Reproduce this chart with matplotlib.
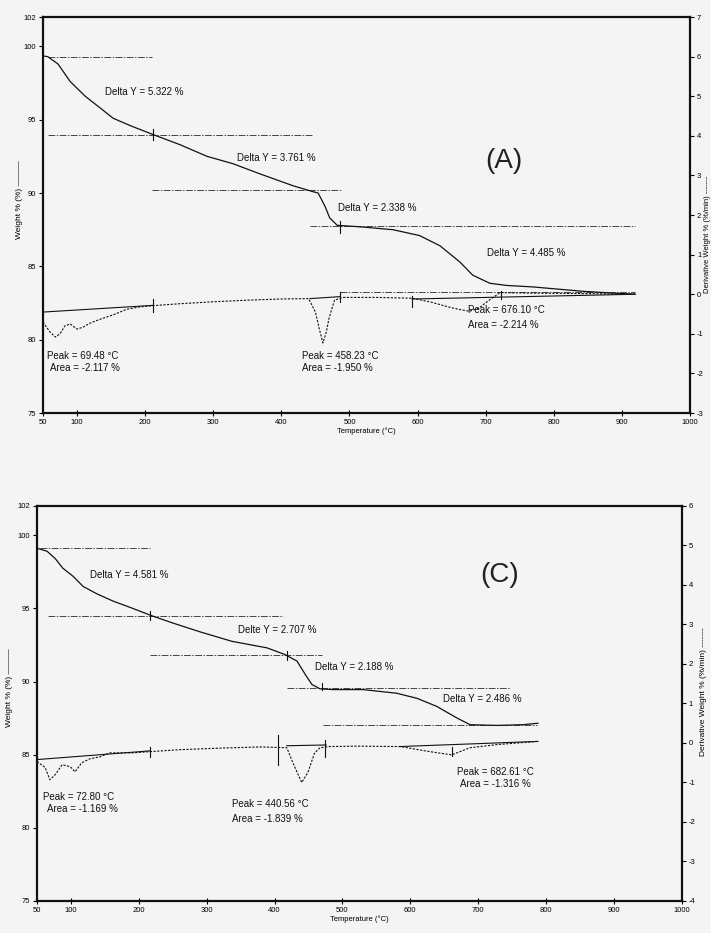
import numpy as np
import matplotlib.pyplot as plt

plt.rcParams['font.family'] = ['Liberation Sans', 'DejaVu Sans']
plt.rcParams['axes.unicode_minus'] = False

# ---- panel A data ----
temp_a = [50, 57, 72, 90, 112, 134, 153, 178, 211, 251, 291, 329, 369, 417, 446,
          454, 464, 471, 482, 515, 564, 603, 633, 662, 681, 706, 731, 769, 843, 916]
weight_a = [99.35, 99.3, 98.8, 97.6, 96.6, 95.8, 95.1, 94.6, 94.0, 93.3, 92.5, 92.0,
            91.3, 90.5, 90.1, 90.0, 89.1, 88.3, 87.8, 87.7, 87.5, 87.1, 86.4, 85.3,
            84.4, 83.85, 83.7, 83.6, 83.3, 83.1]
dtemp_a = [50, 60, 68, 75, 82, 90, 100, 109, 119, 134, 153, 173, 192, 210, 250, 300,
           350, 400, 440, 450, 456, 461, 466, 470, 478, 490, 540, 592, 620, 643, 660,
           676, 690, 705, 721, 760, 820, 880, 920]
deriv_a = [-0.70, -0.95, -1.08, -1.0, -0.80, -0.75, -0.88, -0.83, -0.73, -0.63, -0.52,
           -0.38, -0.32, -0.29, -0.24, -0.19, -0.15, -0.12, -0.11, -0.45, -0.9, -1.23,
           -0.95, -0.6, -0.15, -0.08, -0.08, -0.1, -0.2, -0.31, -0.38, -0.43, -0.35,
           -0.15, 0.04, 0.03, 0.02, 0.01, 0.01]
steps_a = [(57, 210, 99.25), (57, 445, 93.95), (210, 489, 90.2), (442, 919, 87.75),
           (486, 919, 83.25)]
base_a = [([50, 212], [-0.45, -0.28]), ([442, 486], [-0.11, -0.06]),
          ([592, 920], [-0.12, 0.0])]
wmark_a = [(212, 93.6, 94.4), (486, 87.3, 88.1)]
dmark_a = [(212, -0.45, -0.12), (486, -0.2, 0.05), (592, -0.33, -0.05), (722, -0.12, 0.08)]
notes_a = [("Delta Y = 5.322 %", 141, 96.9), ("Delta Y = 3.761 %", 335, 92.4),
           ("Delta Y = 2.338 %", 483, 89.0), ("Delta Y = 4.485 %", 702, 85.9),
           ("Peak = 69.48 °C", 56, 78.9), ("Area = -2.117 %", 60, 78.1),
           ("Peak = 458.23 °C", 430, 78.9), ("Area = -1.950 %", 430, 78.1),
           ("Peak = 676.10 °C", 674, 82.0), ("Area = -2.214 %", 674, 81.0)]

# ---- panel C data ----
temp_c = [50, 51, 65, 77, 88, 103, 118, 138, 162, 191, 219, 250, 290, 337, 389, 415,
          433, 445, 455, 467, 486, 530, 580, 610, 639, 669, 688, 728, 766, 788]
weight_c = [99.2, 99.1, 98.9, 98.4, 97.75, 97.2, 96.5, 96.0, 95.5, 95.0, 94.5, 94.0,
            93.4, 92.75, 92.3, 91.85, 91.4, 90.5, 89.8, 89.5, 89.45, 89.45, 89.2,
            88.85, 88.3, 87.5, 87.05, 87.0, 87.05, 87.15]
dtemp_c = [50, 62, 69, 77, 87, 99, 106, 116, 128, 143, 157, 191, 216, 260, 320, 380,
           418, 427, 440, 449, 459, 467, 480, 520, 585, 629, 661, 688, 728, 788]
deriv_c = [-0.47, -0.62, -0.93, -0.80, -0.55, -0.60, -0.73, -0.50, -0.40, -0.35, -0.25,
           -0.25, -0.22, -0.17, -0.13, -0.10, -0.12, -0.5, -1.0, -0.75, -0.25, -0.12,
           -0.09, -0.08, -0.09, -0.22, -0.30, -0.12, -0.04, 0.04]
steps_c = [(54, 216, 99.1), (66, 412, 94.5), (216, 470, 91.8), (418, 747, 89.55),
           (471, 786, 87.05)]
base_c = [([50, 216], [-0.42, -0.2]), ([418, 476], [-0.07, -0.05]),
          ([585, 788], [-0.09, 0.04])]
wmark_c = [(216, 94.2, 94.8), (418, 91.5, 92.1), (470, 89.4, 89.9)]
dmark_c = [(216, -0.35, -0.1), (405, -0.55, 0.21), (474, -0.35, 0.08), (661, -0.33, -0.1)]
notes_c = [("Delta Y = 4.581 %", 128, 97.3), ("Delte Y = 2.707 %", 346, 93.5),
           ("Delta Y = 2.188 %", 459, 91.0), ("Delta Y = 2.486 %", 648, 88.8),
           ("Peak = 72.80 °C", 59, 82.1), ("Area = -1.169 %", 65, 81.3),
           ("Peak = 440.56 °C", 337, 81.6), ("Area = -1.839 %", 338, 80.6),
           ("Peak = 682.61 °C", 669, 83.8), ("Area = -1.316 %", 673, 83.0)]

xticks = [50, 100, 200, 300, 400, 500, 600, 700, 800, 900, 1000]
yticks = [75, 80, 85, 90, 95, 100, 102]

paper = '#f4f4f4'
ink = '#111111'


def panel(rect, t, w, dt, d, steps, bases, wmarks, dmarks, notes,
          dlim, letter, letter_pos, ylab_x, rlab_pos, rlab_size):
    ax = fig.add_axes(rect)
    ax.set_facecolor(paper)
    ax.set_xlim(50, 1000)
    ax.set_ylim(75, 102)
    ax.set_xticks(xticks)
    ax.set_yticks(yticks)
    for s in ax.spines.values():
        s.set_linewidth(1.6)
        s.set_color(ink)
    ax.tick_params(axis='x', direction='inout', length=4, width=0.8, labelsize=5.5, pad=2)
    ax.tick_params(axis='y', direction='out', length=3, width=0.8, labelsize=5.5, pad=2)

    for x0, x1, lev in steps:
        ax.plot([x0, x1], [lev, lev], color='#444444', lw=0.7,
                linestyle=(0, (7, 1.5, 1.5, 1.5)))
    ax.plot(t, w, color=ink, lw=0.9)
    for x, lo, hi in wmarks:
        ax.plot([x, x], [lo, hi], color=ink, lw=0.8)
    for txt, x, y in notes:
        ax.text(x, y, txt, fontsize=7, ha='left', va='center', color=ink)
    ax.text(letter_pos[0], letter_pos[1], letter, fontsize=20, ha='center',
            va='center', color='#222222')
    ax.set_xlabel("Temperature (°C)", fontsize=5.5, labelpad=1)
    ax.set_ylabel("Weight % (%) ———", fontsize=6)
    ax.yaxis.set_label_coords(ylab_x, 0.54)

    ax2 = ax.twinx()
    ax2.set_ylim(*dlim)
    ax2.set_yticks(np.arange(dlim[0], dlim[1] + 1))
    ax2.tick_params(axis='y', direction='out', length=3, width=0.8, labelsize=5.5, pad=2)
    for s in ax2.spines.values():
        s.set_visible(False)
    ax2.plot(dt, d, color=ink, lw=0.8, linestyle=(0, (2, 1.3)))
    for bx, by in bases:
        ax2.plot(bx, by, color=ink, lw=0.8)
    for x, lo, hi in dmarks:
        ax2.plot([x, x], [lo, hi], color=ink, lw=0.8)
    ax2.set_ylabel("Derivative Weight % (%/min) -------", fontsize=rlab_size)
    ax2.yaxis.set_label_coords(*rlab_pos)
    return ax


fig = plt.figure(figsize=(7.11, 9.33), dpi=100, facecolor=paper)

panel([0.0605, 0.5573, 0.910, 0.4244], temp_a, weight_a, dtemp_a, deriv_a, steps_a,
      base_a, wmark_a, dmark_a, notes_a, (-3, 7), "(A)", (727, 92.2), -0.031,
      (1.0215, 0.45), 5.5)
panel([0.052, 0.0343, 0.907, 0.4234], temp_c, weight_c, dtemp_c, deriv_c, steps_c,
      base_c, wmark_c, dmark_c, notes_c, (-4, 6), "(C)", (731, 97.3), -0.037,
      (1.028, 0.53), 6)

fig.savefig("out.png", dpi=100, facecolor=paper)
